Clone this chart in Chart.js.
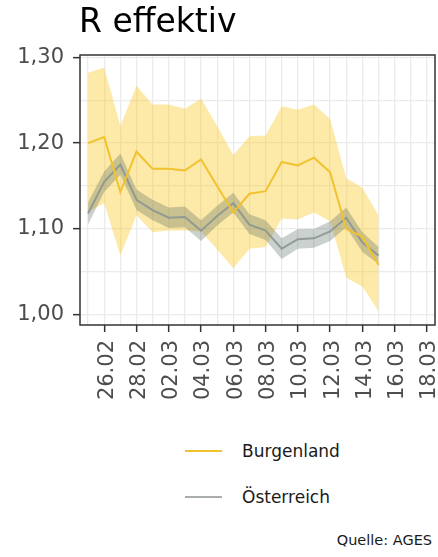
<!DOCTYPE html>
<html>
<head>
<meta charset="utf-8">
<script src="https://cdn.jsdelivr.net/npm/chart.js@4"></script>
<style>
  body { margin:0; background:#fff; font-family:'DejaVu Sans', sans-serif; }
  #wrap { position:relative; width:438px; height:557px; overflow:hidden; }
  #title { position:absolute; left:79px; top:4px; font-size:33px; line-height:33px; color:#000; }
  #box { position:absolute; left:0; top:0; width:438px; height:420px; }
  .leg { position:absolute; left:185px; height:20px; display:flex; align-items:center; font-size:17px; color:#1a1a1a; }
  .leg span.l { display:inline-block; width:37px; height:2px; margin-right:20px; }
  #src { position:absolute; right:6px; top:532px; font-size:14.5px; color:#1a1a1a; }
</style>
</head>
<body>
<div id="wrap">
  <div id="box"><canvas id="chartR"></canvas></div>
  <div id="title">R effektiv</div>
  <div class="leg" style="top:441px"><span class="l" style="background:#F2C12E"></span>Burgenland</div>
  <div class="leg" style="top:487px"><span class="l" style="background:#A9ADAB"></span>Österreich</div>
  <div id="src">Quelle: AGES</div>
</div>
<script>
// Tage auf der x-Achse (25.02 - 18.03), Daten bis 15.03
const days = ['25.02','26.02','27.02','28.02','01.03','02.03','03.03','04.03','05.03','06.03','07.03',
              '08.03','09.03','10.03','11.03','12.03','13.03','14.03','15.03','16.03','17.03','18.03'];

const burgenland     = [1.200,1.207,1.143,1.190,1.170,1.170,1.168,1.181,1.150,1.119,1.141,1.144,1.178,1.174,1.183,1.166,1.100,1.091,1.058];
const burgenlandLow  = [1.120,1.130,1.069,1.116,1.096,1.098,1.098,1.097,1.076,1.054,1.077,1.079,1.112,1.111,1.119,1.109,1.043,1.033,1.004];
const burgenlandHigh = [1.282,1.288,1.220,1.267,1.245,1.245,1.240,1.252,1.220,1.186,1.208,1.209,1.243,1.239,1.245,1.228,1.159,1.148,1.116];

const oesterreich     = [1.118,1.155,1.175,1.134,1.122,1.113,1.114,1.098,1.115,1.130,1.105,1.098,1.077,1.088,1.089,1.097,1.113,1.084,1.069];
const oesterreichLow  = [1.105,1.143,1.163,1.122,1.110,1.101,1.102,1.086,1.104,1.119,1.094,1.087,1.065,1.077,1.078,1.086,1.102,1.073,1.059];
const oesterreichHigh = [1.131,1.167,1.188,1.146,1.134,1.125,1.126,1.110,1.127,1.142,1.117,1.110,1.089,1.100,1.100,1.109,1.125,1.096,1.079];

const yTicks = [1.00, 1.10, 1.20, 1.30];
const yMinor = [1.05, 1.15, 1.25];

const fmt = v => v.toFixed(2).replace('.', ',');
const isMajorY = v => yTicks.some(t => Math.abs(t - v) < 1e-6);

Chart.defaults.font.family = "'DejaVu Sans', sans-serif";

// Rahmen um die Plotfläche
const frame = {
  id: 'frame',
  afterDraw(chart) {
    const {ctx, chartArea:a} = chart;
    ctx.save();
    ctx.strokeStyle = '#333';
    ctx.lineWidth = 1.5;
    ctx.strokeRect(a.left, a.top, a.right - a.left, a.bottom - a.top);
    ctx.restore();
  }
};

const line = (data, color, order) => ({
  data, borderColor: color, borderWidth: 2, pointRadius: 0, fill: false, order, tension: 0
});
const band = (data, color, target, order) => ({
  data, borderWidth: 0, borderColor: 'transparent', backgroundColor: color,
  pointRadius: 0, fill: target, order, tension: 0
});

new Chart(document.getElementById('chartR'), {
  type: 'line',
  data: {
    labels: days,
    datasets: [
      line(burgenland, '#F2C12E', 0),
      line(oesterreich, 'rgba(140,150,145,0.9)', 1),
      band(oesterreichHigh, 'rgba(70,90,80,0.28)', 3, 2),
      band(oesterreichLow, 'transparent', false, 3),
      band(burgenlandHigh, 'rgba(250,205,50,0.42)', 5, 4),
      band(burgenlandLow, 'transparent', false, 5)
    ]
  },
  options: {
    responsive: true,
    maintainAspectRatio: false,
    animation: false,
    layout: { padding: { top: 55, right: 3, left: 0, bottom: 0 } },
    plugins: { legend: { display: false }, tooltip: { enabled: false } },
    scales: {
      x: {
        offset: true,
        afterFit: s => { s.height = 95; s.paddingLeft = 0; s.paddingRight = 0; },
        grid: {
          offset: false,
          color: '#EBEBEB',
          lineWidth: 1.3,
          tickLength: 7,
          tickColor: c => c.index % 2 === 1 ? '#333' : 'rgba(0,0,0,0)',
          tickWidth: 1.5
        },
        border: { display: false },
        ticks: {
          autoSkip: false,
          minRotation: 90, maxRotation: 90,
          padding: 8,
          labelOffset: 3,
          color: '#4D4D4D',
          font: { size: 21 },
          callback: (v, i) => i % 2 === 1 ? days[i] : ''
        }
      },
      y: {
        min: 0.988, max: 1.3027,
        afterFit: s => { s.width = 80; s.paddingTop = 0; s.paddingBottom = 0; },
        afterBuildTicks: s => {
          s.ticks = [...yTicks, ...yMinor].sort((a, b) => a - b).map(v => ({ value: v }));
        },
        grid: {
          color: '#EBEBEB',
          lineWidth: 1.3,
          tickLength: 7,
          tickColor: c => isMajorY(c.tick.value) ? '#333' : 'rgba(0,0,0,0)',
          tickWidth: 1.5
        },
        border: { display: false },
        ticks: {
          padding: 9,
          color: '#4D4D4D',
          font: { size: 21 },
          callback: v => isMajorY(v) ? fmt(v) : ''
        }
      }
    }
  },
  plugins: [frame]
});
</script>
</body>
</html>
